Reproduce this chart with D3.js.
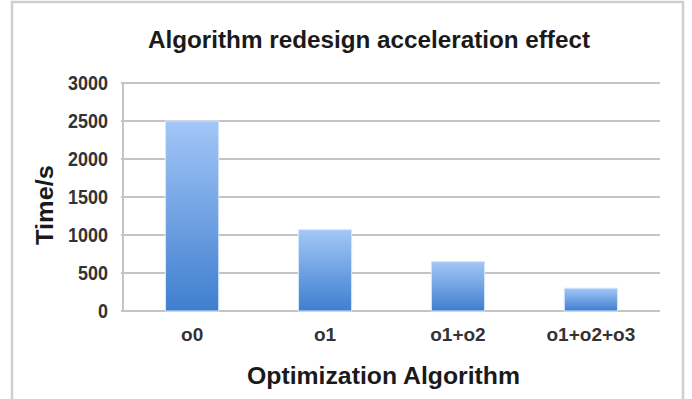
<!DOCTYPE html>
<html>
<head>
<meta charset="utf-8">
<script src="https://cdn.jsdelivr.net/npm/d3@7"></script>
<style>
  body { margin: 0; background: #fff; }
  text { font-family: "Liberation Sans", Arial, sans-serif; font-weight: bold; }
</style>
</head>
<body>
<svg id="chart" width="692" height="399"></svg>
<script>
// data
var categories = ["o0", "o1", "o1+o2", "o1+o2+o3"];
var times = [2500, 1070, 650, 300];
var yTicks = [0, 500, 1000, 1500, 2000, 2500, 3000];

var svg = d3.select("#chart");
var plotLeft = 123, plotRight = 660, plotTop = 83, plotBottom = 311;

// chart frame
svg.append("rect")
    .attr("x", 12).attr("y", 2)
    .attr("width", 671).attr("height", 430)
    .style("fill", "none")
    .style("stroke", "#cfcfcf")
    .style("stroke-width", 2.5);

var defs = svg.append("defs");
var grad = defs.append("linearGradient")
    .attr("id", "barGrad")
    .attr("x1", 0).attr("y1", 0).attr("x2", 0).attr("y2", 1);
grad.append("stop").attr("offset", "0%").attr("stop-color", "#a3c7f7");
grad.append("stop").attr("offset", "100%").attr("stop-color", "#3f7ecf");

var x = d3.scaleBand()
    .domain(categories)
    .range([plotLeft, plotRight])
    .paddingInner(0.6)
    .paddingOuter(0.32);

var y = d3.scaleLinear()
    .domain([0, 3000])
    .range([plotBottom, plotTop]);

// gridlines
svg.append("g").selectAll("line")
    .data(yTicks)
    .enter().append("line")
    .attr("x1", plotLeft - 2).attr("x2", plotRight)
    .attr("y1", function (d) { return y(d); })
    .attr("y2", function (d) { return y(d); })
    .style("stroke", "#c4c4c4")
    .style("stroke-width", 2);

// y axis line
svg.append("line")
    .attr("x1", plotLeft).attr("x2", plotLeft)
    .attr("y1", y(3000)).attr("y2", y(0))
    .style("stroke", "#c4c4c4")
    .style("stroke-width", 2);

// bars
svg.append("g").selectAll("rect")
    .data(times)
    .enter().append("rect")
    .attr("x", function (d, i) { return x(categories[i]); })
    .attr("y", function (d) { return y(d); })
    .attr("width", x.bandwidth())
    .attr("height", function (d) { return y(0) - y(d); })
    .style("fill", "url(#barGrad)")
    .style("stroke", "#d6e6fb")
    .style("stroke-width", 1);

// y tick labels (narrow bold digits, as in the picture)
svg.append("g").selectAll("text")
    .data(yTicks)
    .enter().append("text")
    .attr("x", 108)
    .attr("y", function (d) { return y(d) + 7; })
    .attr("text-anchor", "end")
    .attr("textLength", function (d) { return String(d).length * 10; })
    .attr("lengthAdjust", "spacingAndGlyphs")
    .style("font-size", "20px")
    .style("fill", "#333")
    .text(function (d) { return d; });

// category labels
svg.append("g").selectAll("text")
    .data(categories)
    .enter().append("text")
    .attr("x", function (d) { return x(d) + x.bandwidth() / 2; })
    .attr("y", 341)
    .attr("text-anchor", "middle")
    .attr("textLength", function (d) { return d.length * 11.1; })
    .attr("lengthAdjust", "spacingAndGlyphs")
    .style("font-size", "19px")
    .style("fill", "#333")
    .text(function (d) { return d; });

// titles
svg.append("text")
    .attr("x", 369).attr("y", 48)
    .attr("text-anchor", "middle")
    .attr("textLength", 442)
    .attr("lengthAdjust", "spacingAndGlyphs")
    .style("font-size", "23px")
    .style("fill", "#1a1a1a")
    .text("Algorithm redesign acceleration effect");

svg.append("text")
    .attr("x", 383.5).attr("y", 384)
    .attr("text-anchor", "middle")
    .attr("textLength", 273)
    .attr("lengthAdjust", "spacingAndGlyphs")
    .style("font-size", "24px")
    .style("fill", "#1a1a1a")
    .text("Optimization Algorithm");

svg.append("text")
    .attr("transform", "translate(53,205) rotate(-90)")
    .attr("text-anchor", "middle")
    .attr("textLength", 80)
    .attr("lengthAdjust", "spacingAndGlyphs")
    .style("font-size", "24px")
    .style("fill", "#1a1a1a")
    .text("Time/s");
</script>
</body>
</html>
